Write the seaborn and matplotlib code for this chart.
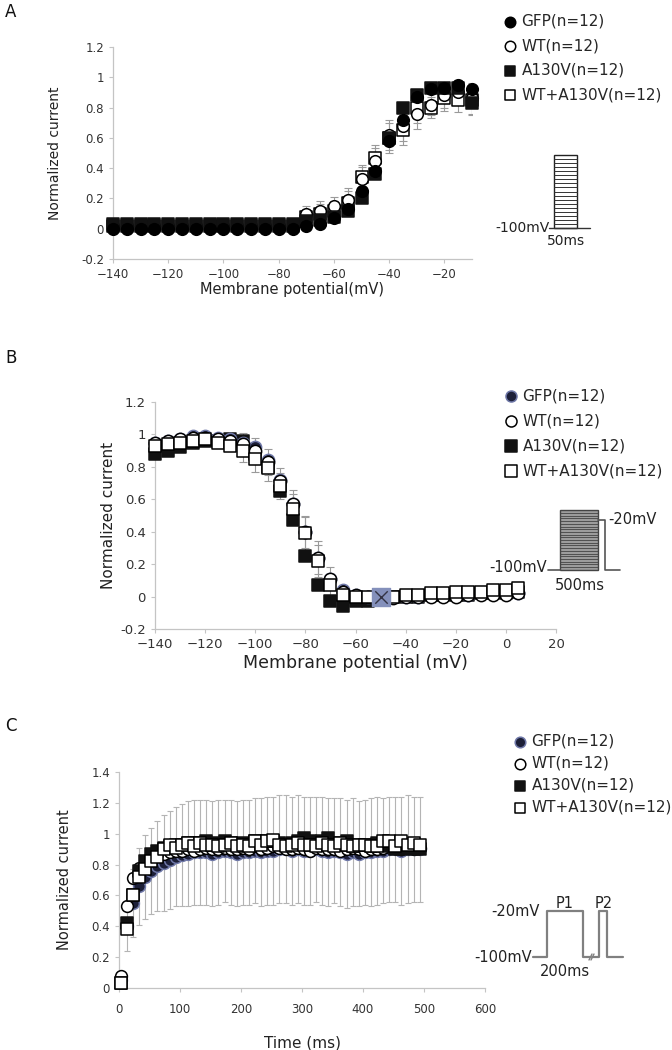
import numpy as np
import pandas as pd
import matplotlib
matplotlib.use("Agg")
import matplotlib.pyplot as plt
import seaborn as sns

# ---- panel A: activation
volt_a = list(range(-140, -5, 5))
gfp_a = [0.00, 0.00, 0.00, 0.00, 0.00, 0.00, 0.00, 0.00, 0.00, 0.00, 0.00, 0.00, 0.00, 0.00,
         0.02, 0.03, 0.07, 0.13, 0.25, 0.38, 0.58, 0.72, 0.87, 0.92, 0.93, 0.95, 0.92]
wt_a = [0.02, 0.02, 0.02, 0.02, 0.02, 0.02, 0.02, 0.02, 0.02, 0.02, 0.02, 0.02, 0.02, 0.02,
        0.10, 0.12, 0.15, 0.19, 0.33, 0.45, 0.62, 0.68, 0.76, 0.82, 0.88, 0.90, 0.86]
a130v_a = [0.03, 0.03, 0.03, 0.03, 0.03, 0.03, 0.03, 0.03, 0.03, 0.03, 0.03, 0.03, 0.03, 0.03,
           0.05, 0.06, 0.08, 0.12, 0.20, 0.36, 0.60, 0.80, 0.88, 0.93, 0.93, 0.93, 0.83]
wta_a = [0.02, 0.02, 0.02, 0.02, 0.02, 0.02, 0.02, 0.02, 0.02, 0.02, 0.02, 0.02, 0.02, 0.02,
         0.08, 0.10, 0.12, 0.17, 0.34, 0.47, 0.60, 0.65, 0.80, 0.80, 0.86, 0.85, 0.85]
err_a = [0, 0, 0, 0, 0, 0, 0, 0, 0, 0, 0, 0, 0, 0,
         0.05, 0.06, 0.06, 0.08, 0.08, 0.08, 0.10, 0.10, 0.10, 0.07, 0.08, 0.08, 0.10]

# ---- panel B: inactivation
volt_b = list(range(-140, 10, 5))
gfp_b = [0.95, 0.96, 0.97, 0.99, 0.99, 0.98, 0.97, 0.95, 0.92, 0.84, 0.72, 0.57, 0.40, 0.24, 0.11,
         0.04, 0.01, 0.00, 0.00, 0.00, 0.00, 0.00, 0.01, 0.01, 0.01, 0.01, 0.02, 0.02, 0.02, 0.02]
wt_b = [0.95, 0.96, 0.97, 0.98, 0.98, 0.97, 0.96, 0.94, 0.90, 0.83, 0.71, 0.57, 0.40, 0.24, 0.11,
        0.03, 0.01, 0.00, 0.00, -0.01, 0.00, 0.00, 0.00, 0.00, 0.00, 0.01, 0.01, 0.01, 0.01, 0.02]
a130v_b = [0.88, 0.90, 0.92, 0.95, 0.96, 0.96, 0.97, 0.96, 0.88, 0.80, 0.65, 0.47, 0.25, 0.07, -0.03,
           -0.06, -0.03, -0.03, -0.01, 0.00, 0.00, 0.00, 0.01, 0.01, 0.01, 0.01, 0.02, 0.02, 0.02, 0.03]
wta_b = [0.93, 0.94, 0.95, 0.96, 0.97, 0.95, 0.93, 0.90, 0.85, 0.79, 0.68, 0.54, 0.39, 0.22, 0.07,
         0.01, 0.00, 0.00, 0.00, 0.00, 0.01, 0.01, 0.02, 0.02, 0.03, 0.03, 0.03, 0.04, 0.04, 0.05]
err_b = [0, 0, 0, 0, 0, 0, 0.02, 0.07, 0.08, 0.08, 0.08, 0.09, 0.10, 0.10, 0.07,
         0.04, 0, 0, 0, 0, 0, 0, 0, 0, 0, 0, 0, 0, 0, 0]

# ---- panel C: recovery
time_c = list(range(3, 500, 10))
gfp_c = [0.05, 0.40, 0.55, 0.66, 0.72, 0.76, 0.79, 0.81, 0.83, 0.85, 0.86, 0.87, 0.88, 0.88, 0.88,
         0.87, 0.88, 0.89, 0.88, 0.87, 0.88, 0.88, 0.89, 0.88, 0.89, 0.89, 0.90, 0.90, 0.89, 0.90,
         0.89, 0.89, 0.90, 0.89, 0.88, 0.89, 0.88, 0.87, 0.88, 0.87, 0.88, 0.88, 0.89, 0.89, 0.90,
         0.90, 0.89, 0.90, 0.90, 0.90]
wt_c = [0.08, 0.53, 0.71, 0.78, 0.81, 0.84, 0.86, 0.87, 0.88, 0.89, 0.89, 0.90, 0.89, 0.90, 0.91,
        0.90, 0.90, 0.91, 0.90, 0.90, 0.91, 0.90, 0.92, 0.90, 0.91, 0.92, 0.91, 0.90, 0.90, 0.91,
        0.90, 0.89, 0.91, 0.90, 0.90, 0.90, 0.89, 0.90, 0.91, 0.90, 0.89, 0.90, 0.90, 0.91, 0.92,
        0.91, 0.90, 0.91, 0.90, 0.91]
a130v_c = [0.03, 0.42, 0.60, 0.76, 0.82, 0.87, 0.89, 0.91, 0.92, 0.93, 0.93, 0.94, 0.94, 0.94, 0.95,
           0.93, 0.94, 0.95, 0.94, 0.93, 0.94, 0.93, 0.95, 0.94, 0.95, 0.95, 0.94, 0.93, 0.94, 0.95,
           0.97, 0.95, 0.94, 0.95, 0.97, 0.94, 0.93, 0.95, 0.92, 0.93, 0.93, 0.92, 0.94, 0.93, 0.92,
           0.90, 0.90, 0.91, 0.90, 0.90]
wta_c = [0.03, 0.38, 0.60, 0.72, 0.77, 0.82, 0.85, 0.90, 0.93, 0.91, 0.93, 0.94, 0.92, 0.94, 0.93,
         0.93, 0.92, 0.93, 0.94, 0.92, 0.93, 0.92, 0.95, 0.93, 0.95, 0.96, 0.93, 0.92, 0.93, 0.94,
         0.93, 0.93, 0.92, 0.94, 0.93, 0.92, 0.94, 0.93, 0.92, 0.93, 0.93, 0.92, 0.92, 0.95, 0.95,
         0.92, 0.95, 0.93, 0.94, 0.93]
err_c = [0.00, 0.16, 0.22, 0.25, 0.27, 0.28, 0.29, 0.31, 0.32, 0.32, 0.33, 0.34, 0.34, 0.34, 0.34,
         0.34, 0.34, 0.33, 0.34, 0.34, 0.34, 0.34, 0.34, 0.35, 0.35, 0.35, 0.35, 0.35, 0.35, 0.35,
         0.35, 0.35, 0.34, 0.35, 0.35, 0.34, 0.35, 0.35, 0.35, 0.34, 0.34, 0.35, 0.35, 0.34, 0.34,
         0.34, 0.35, 0.35, 0.34, 0.34]

labels = ["GFP(n=12)", "WT(n=12)", "A130V(n=12)", "WT+A130V(n=12)"]

sns.set_style("ticks")
plt.rcParams["font.family"] = ["DejaVu Sans"]

fig = plt.figure(figsize=(6.72, 10.5), dpi=100)
W, H = 672, 1050


def px_axes(l, t, r, b):
    return fig.add_axes([l / W, 1 - b / H, (r - l) / W, (b - t) / H])


def style_axes(ax):
    sns.despine(ax=ax)
    ax.patch.set_alpha(0)
    for s in ["left", "bottom"]:
        ax.spines[s].set_color("#c4c4c4")
        ax.spines[s].set_linewidth(0.9)
    ax.tick_params(colors="#c4c4c4", labelcolor="#333333", labelsize=8.5,
                   length=3, width=0.8, direction="out")


def draw_panel(ax, x, series, err, err_idx, gfp_edge, gfp_face, ms, cap, order, ecol):
    styles = {
        0: dict(marker="o", color=gfp_face, edgecolor=gfp_edge),
        1: dict(marker="o", color="white", edgecolor="black"),
        2: dict(marker="s", color="#111111", edgecolor="#111111"),
        3: dict(marker="s", color="white", edgecolor="black"),
    }
    for k in err_idx:
        ax.errorbar(x, series[k], yerr=err, fmt="none", ecolor=ecol,
                    elinewidth=0.8, capsize=cap, capthick=0.8, zorder=1)
    handles = {}
    for z, i in enumerate(order):
        sns.scatterplot(x=x, y=series[i], ax=ax, s=ms, linewidth=1.1,
                        zorder=3 + z, legend=False, clip_on=False, **styles[i])
        handles[i] = ax.collections[-1]
    return [handles[i] for i in range(4)]


def add_legend(ax, handles, x, y, spacing):
    ax.legend(handles, labels, loc="upper left", bbox_to_anchor=(x / W, 1 - y / H),
              bbox_transform=fig.transFigure, frameon=False, fontsize=11,
              handlelength=0.8, handletextpad=0.35, labelspacing=spacing,
              borderpad=0, borderaxespad=0, markerscale=0.9)


# ---------- A
axA = px_axes(113, 47, 472, 259)
hA = draw_panel(axA, volt_a, [gfp_a, wt_a, a130v_a, wta_a], err_a, [1, 3],
                "black", "black", 70, 3, [3, 1, 2, 0], "#9a9a9a")
axA.set_xlim(-140, -10)
axA.set_ylim(-0.2, 1.2)
axA.set_xticks([-140, -120, -100, -80, -60, -40, -20])
axA.set_yticks([-0.2, 0, 0.2, 0.4, 0.6, 0.8, 1, 1.2])
axA.set_yticklabels(["-0.2", "0", "0.2", "0.4", "0.6", "0.8", "1", "1.2"])
style_axes(axA)
axA.set_ylabel("Normalized current", fontsize=10, color="#222222", labelpad=14)
axA.set_xlabel("Membrane potential(mV)", fontsize=10.5, color="#222222", labelpad=1)
add_legend(axA, hA, 504, 14, 0.62)

# ---------- B
axB = px_axes(155, 402, 556, 629)
hB = draw_panel(axB, volt_b, [gfp_b, wt_b, a130v_b, wta_b], err_b, [1, 3],
                "#6f78a8", "#1c1f38", 78, 3, [2, 0, 1, 3], "#9a9a9a")
i50 = volt_b.index(-50)
axB.scatter([volt_b[i50]], [gfp_b[i50]], marker="s", s=150, color="#8490bb", zorder=9)
axB.scatter([volt_b[i50]], [gfp_b[i50]], marker="x", s=80, color="#333344", linewidth=1, zorder=10)
axB.set_xlim(-140, 20)
axB.set_ylim(-0.2, 1.2)
axB.set_xticks([-140, -120, -100, -80, -60, -40, -20, 0, 20])
axB.set_yticks([-0.2, 0, 0.2, 0.4, 0.6, 0.8, 1, 1.2])
axB.set_yticklabels(["-0.2", "0", "0.2", "0.4", "0.6", "0.8", "1", "1.2"])
style_axes(axB)
axB.tick_params(labelsize=9.5)
axB.set_ylabel("Normalized current", fontsize=11, color="#222222", labelpad=3)
axB.set_xlabel("Membrane potential (mV)", fontsize=12.5, color="#222222", labelpad=2)
add_legend(axB, hB, 505, 388, 0.66)

# ---------- C
axC = px_axes(119, 772, 485, 988)
hC = draw_panel(axC, time_c, [gfp_c, wt_c, a130v_c, wta_c], err_c, [0],
                "#6f78a8", "#1c1f38", 72, 2.2, [0, 1, 2, 3], "#b4b4b4")
axC.set_xlim(0, 600)
axC.set_ylim(0, 1.4)
axC.set_xticks([0, 100, 200, 300, 400, 500, 600])
axC.set_yticks([0, 0.2, 0.4, 0.6, 0.8, 1, 1.2, 1.4])
axC.set_yticklabels(["0", "0.2", "0.4", "0.6", "0.8", "1", "1.2", "1.4"])
style_axes(axC)
axC.tick_params(axis="x", pad=8)
axC.set_ylabel("Normalized current", fontsize=10.5, color="#222222", labelpad=14)
axC.set_xlabel("Time (ms)", fontsize=11, color="#222222", labelpad=14)
add_legend(axC, hC, 514, 734, 0.45)

# ---------- overlay: panel letters and protocol sketches
ov = fig.add_axes([0, 0, 1, 1], zorder=5)
ov.set_xlim(0, W)
ov.set_ylim(H, 0)
ov.axis("off")
for letter, lx, ly in [("A", 5, 12), ("B", 5, 358), ("C", 5, 726)]:
    ov.text(lx, ly, letter, fontsize=12, va="center", ha="left", color="#111111")

# A protocol
ov.plot([549, 590], [228, 228], color="#333333", lw=1)
ov.add_patch(plt.Rectangle((554, 155), 23, 73, fill=False, ec="#222222", lw=1))
for yy in np.linspace(159, 224, 17):
    ov.plot([554, 577], [yy, yy], color="#333333", lw=0.7)
ov.text(550, 228, "-100mV", fontsize=10, ha="right", va="center", color="#222222")
ov.text(566, 241, "50ms", fontsize=10, ha="center", va="center", color="#222222")

# B protocol
ov.plot([548, 560], [570, 570], color="#555555", lw=1.2)
ov.add_patch(plt.Rectangle((560, 510), 38, 60, fc="#9c9c9c", ec="#444444", lw=1))
for yy in np.linspace(513, 567, 21):
    ov.plot([560, 598], [yy, yy], color="#444444", lw=0.6)
ov.plot([598, 605, 605, 620], [520, 520, 570, 570], color="#555555", lw=1.2)
ov.text(547, 568, "-100mV", fontsize=10.5, ha="right", va="center", color="#222222")
ov.text(608, 520, "-20mV", fontsize=10.5, ha="left", va="center", color="#222222")
ov.text(580, 585, "500ms", fontsize=10.5, ha="center", va="center", color="#222222")

# C protocol
gc = "#808080"
ov.plot([533, 547, 547, 583, 583, 590], [957, 957, 911, 911, 957, 957], color=gc, lw=1.6)
ov.plot([592, 599, 599, 607, 607, 623], [957, 957, 911, 911, 957, 957], color=gc, lw=1.6)
ov.plot([589, 592], [960, 954], color=gc, lw=1)
ov.plot([591, 594], [960, 954], color=gc, lw=1)
ov.text(540, 911, "-20mV", fontsize=10.5, ha="right", va="center", color="#222222")
ov.text(532, 957, "-100mV", fontsize=10.5, ha="right", va="center", color="#222222")
ov.text(565, 903, "P1", fontsize=10.5, ha="center", va="center", color="#222222")
ov.text(604, 903, "P2", fontsize=10.5, ha="center", va="center", color="#222222")
ov.text(565, 971, "200ms", fontsize=10.5, ha="center", va="center", color="#222222")

fig.savefig("out.png", dpi=100)
